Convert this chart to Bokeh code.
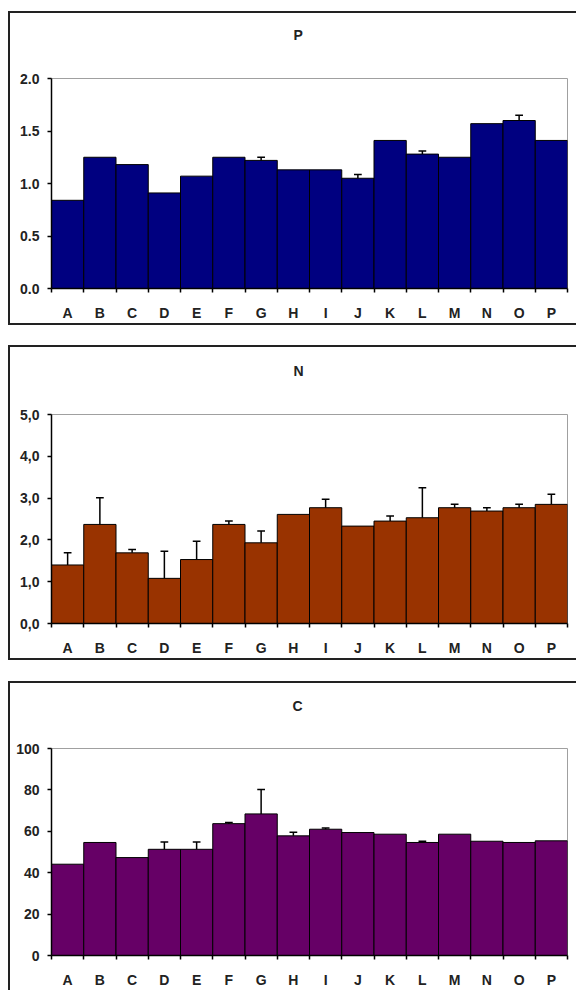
from bokeh.plotting import figure
from bokeh.models import Range1d, FixedTicker, ColumnDataSource, Title
from bokeh.layouts import column
from bokeh.embed import file_html
from bokeh.resources import INLINE

# ---------------- data ----------------
categories = list("ABCDEFGHIJKLMNOP")

p_values = [0.84, 1.25, 1.18, 0.91, 1.07, 1.25, 1.22, 1.13, 1.13, 1.05, 1.41, 1.28, 1.25, 1.57, 1.60, 1.41]
p_errors = [0, 0, 0, 0, 0, 0, 0.03, 0, 0, 0.035, 0, 0.03, 0, 0, 0.05, 0]
p_ticks = [0.0, 0.5, 1.0, 1.5, 2.0]
p_tick_labels = ["0.0", "0.5", "1.0", "1.5", "2.0"]

n_values = [1.40, 2.37, 1.69, 1.08, 1.53, 2.37, 1.93, 2.61, 2.77, 2.33, 2.45, 2.53, 2.77, 2.69, 2.77, 2.85]
n_errors = [0.29, 0.64, 0.08, 0.65, 0.44, 0.08, 0.28, 0, 0.20, 0, 0.12, 0.72, 0.08, 0.08, 0.08, 0.24]
n_ticks = [0.0, 1.0, 2.0, 3.0, 4.0, 5.0]
n_tick_labels = ["0,0", "1,0", "2,0", "3,0", "4,0", "5,0"]

c_values = [44.1, 54.6, 47.3, 51.3, 51.3, 63.7, 68.4, 57.8, 61.0, 59.4, 58.6, 54.6, 58.6, 55.2, 54.6, 55.4]
c_errors = [0, 0, 0, 3.5, 3.5, 0.6, 11.8, 1.7, 0.6, 0, 0, 0.6, 0, 0, 0, 0]
c_ticks = [0, 20, 40, 60, 80, 100]
c_tick_labels = ["0", "20", "40", "60", "80", "100"]

FONT = "Liberation Sans"
TEXT = "#222222"
PAGE_LEFT = 10    # canvas left edge on the page
PAGE_RIGHT = 576  # canvas right edge on the page
W = PAGE_RIGHT - PAGE_LEFT


def box_shadows(bottom=True):
    """Outer chart box drawn as box-shadows around the figure (no layout impact)."""
    sh = ["-2px 0 0 0 #222", "0 -2px 0 0 #222", "-2px -2px 0 0 #222"]
    if bottom:
        sh += ["0 2px 0 0 #222", "-2px 2px 0 0 #222"]
    return ", ".join(sh)


def make_panel(title, values, errors, ticks, tick_labels, ymax, color,
               frame_top, frame_h, bottom_border, frame_left, title_offset,
               label_standoff, title_gap, bottom_line=True, margin_top=0):
    n = len(categories)
    height = frame_top + frame_h + bottom_border
    p = figure(width=W, height=height, output_backend="svg",
               toolbar_location=None, tools="",
               x_range=Range1d(0, n), y_range=Range1d(0, ymax),
               min_border_left=frame_left - PAGE_LEFT, min_border_right=PAGE_RIGHT - 567,
               min_border_top=frame_top, min_border_bottom=bottom_border)
    p.background_fill_color = "white"
    p.border_fill_color = "white"
    p.outline_line_color = "#a0a0a0"
    p.outline_line_width = 1
    p.grid.visible = False
    p.margin = (margin_top, 0, 0, PAGE_LEFT)
    p.styles = {"box-shadow": box_shadows(bottom_line)}

    xs = [i + 0.5 for i in range(n)]
    src = ColumnDataSource(dict(x=xs, top=values, cat=categories))
    p.vbar(x="x", top="top", bottom=0, width=1, source=src,
           fill_color=color, line_color="black", line_width=1)

    ex = [xs[i] for i in range(n) if errors[i] > 0]
    ey0 = [values[i] for i in range(n) if errors[i] > 0]
    ey1 = [values[i] + errors[i] for i in range(n) if errors[i] > 0]
    p.segment(x0=ex, y0=ey0, x1=ex, y1=ey1, line_color="black", line_width=1.5)
    p.segment(x0=[x - 0.12 for x in ex], y0=ey1, x1=[x + 0.12 for x in ex], y1=ey1,
              line_color="black", line_width=1.5)

    # x axis: labels at centres, ticks at category boundaries
    xa = p.xaxis[0]
    xa.ticker = FixedTicker(ticks=xs, minor_ticks=list(range(n + 1)))
    xa.major_label_overrides = {x: c for x, c in zip(xs, categories)}
    xa.major_tick_out = 0
    xa.major_tick_in = 0
    xa.minor_tick_out = 4
    xa.minor_tick_in = 0
    xa.minor_tick_line_color = "black"
    xa.minor_tick_line_width = 1.5
    xa.axis_line_color = "black"
    xa.axis_line_width = 1.5
    xa.major_label_standoff = label_standoff
    xa.major_label_text_font = FONT
    xa.major_label_text_font_style = "bold"
    xa.major_label_text_font_size = "14px"
    xa.major_label_text_color = TEXT

    ya = p.yaxis[0]
    ya.ticker = FixedTicker(ticks=ticks, minor_ticks=[])
    ya.major_label_overrides = {t: l for t, l in zip(ticks, tick_labels)}
    ya.major_tick_out = 4
    ya.major_tick_in = 0
    ya.major_tick_line_color = "black"
    ya.major_tick_line_width = 1.5
    ya.minor_tick_out = 0
    ya.minor_tick_in = 0
    ya.axis_line_color = "black"
    ya.axis_line_width = 1.5
    ya.major_label_standoff = 8
    ya.major_label_text_font = FONT
    ya.major_label_text_font_style = "bold"
    ya.major_label_text_font_size = "14px"
    ya.major_label_text_color = TEXT

    # blank spacer panel between the title and the plot area
    p.add_layout(Title(text=" ", text_font_size="2px", standoff=title_gap), "above")

    p.title.text = title
    p.title.align = "left"
    p.title.vertical_align = "bottom"
    p.title.offset = title_offset
    p.title.standoff = 10
    p.title.text_font = FONT
    p.title.text_font_style = "bold"
    p.title.text_font_size = "14px"
    p.title.text_color = TEXT
    return p


p1 = make_panel("P", p_values, p_errors, p_ticks, p_tick_labels, 2.0, "#000080",
                frame_top=65, frame_h=210, bottom_border=35, frame_left=46,
                title_offset=242, label_standoff=12, title_gap=27, margin_top=13)
p2 = make_panel("N", n_values, n_errors, n_ticks, n_tick_labels, 5.0, "#993300",
                frame_top=67, frame_h=209, bottom_border=35, frame_left=46,
                title_offset=242, label_standoff=12, title_gap=27, margin_top=24)
p3 = make_panel("C", c_values, c_errors, c_ticks, c_tick_labels, 100, "#660066",
                frame_top=65, frame_h=211, bottom_border=31, frame_left=51,
                title_offset=241, label_standoff=12, title_gap=26,
                bottom_line=False, margin_top=25)

layout = column(p1, p2, p3, spacing=0)
open("out.html", "w").write(file_html(layout, INLINE))
